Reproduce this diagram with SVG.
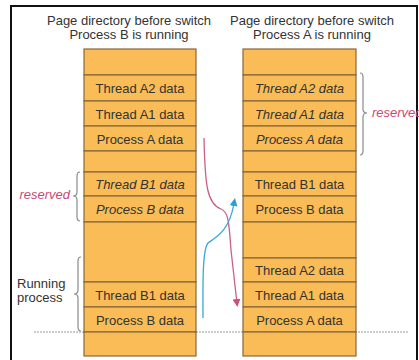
<svg xmlns="http://www.w3.org/2000/svg" width="419" height="360" viewBox="0 0 419 360">
<style>
text{font-family:"Liberation Sans",Arial,sans-serif;font-size:13px;fill:#333}
.c rect{fill:#F9BC56;stroke:#86683A;stroke-width:1.2}
.c text{text-anchor:middle}
.it{font-style:italic}
.title{text-anchor:middle}
.res{font-style:italic;fill:#C64C76}
.brace{fill:none;stroke:#8a8a8a;stroke-width:1.2}
</style>
<defs>
<marker id="ap" markerUnits="userSpaceOnUse" markerWidth="8" markerHeight="8" viewBox="0 0 8 8" refX="1" refY="4" orient="auto"><path d="M0,0 L8,4 L0,8 z" fill="#C8527C"/></marker>
<marker id="ab" markerUnits="userSpaceOnUse" markerWidth="8" markerHeight="8" viewBox="0 0 8 8" refX="1" refY="4" orient="auto"><path d="M0,0 L8,4 L0,8 z" fill="#2E9FD2"/></marker>
</defs>
<rect width="419" height="360" fill="#fff"/>
<path d="M11,360 L11,6 L417,6 L417,360" fill="none" stroke="#111" stroke-width="2"/>
<line x1="34" y1="332" x2="408" y2="332" stroke="#999" stroke-width="1" stroke-dasharray="2,1"/>

<g id="titles">
<text class="title" x="129" y="25">Page directory before switch</text>
<text class="title" x="129" y="38.5">Process B is running</text>
<text class="title" x="312" y="25">Page directory before switch</text>
<text class="title" x="312" y="38.5">Process A is running</text>
</g>

<g id="left-column" class="c">
<g id="l0"><rect x="84" y="49" width="112" height="26"/></g>
<g id="l1"><rect x="84" y="75" width="112" height="26"/><text x="140" y="93">Thread A2 data</text></g>
<g id="l2"><rect x="84" y="101" width="112" height="25"/><text x="140" y="118.5">Thread A1 data</text></g>
<g id="l3"><rect x="84" y="126" width="112" height="25"/><text x="140" y="143.5">Process A data</text></g>
<g id="l4"><rect x="84" y="151" width="112" height="21"/></g>
<g id="l5"><rect x="84" y="172" width="112" height="24"/><text class="it" x="140" y="189">Thread B1 data</text></g>
<g id="l6"><rect x="84" y="196" width="112" height="26"/><text class="it" x="140" y="214">Process B data</text></g>
<g id="l7"><rect x="84" y="222" width="112" height="60"/></g>
<g id="l8"><rect x="84" y="282" width="112" height="25"/><text x="140" y="299.5">Thread B1 data</text></g>
<g id="l9"><rect x="84" y="307" width="112" height="25"/><text x="140" y="324.5">Process B data</text></g>
<g id="l10"><rect x="84" y="332" width="112" height="24"/></g>
</g>

<g id="right-column" class="c">
<g id="r0"><rect x="243" y="49" width="113" height="26"/></g>
<g id="r1"><rect x="243" y="75" width="113" height="26"/><text class="it" x="299.5" y="93">Thread A2 data</text></g>
<g id="r2"><rect x="243" y="101" width="113" height="25"/><text class="it" x="299.5" y="118.5">Thread A1 data</text></g>
<g id="r3"><rect x="243" y="126" width="113" height="25"/><text class="it" x="299.5" y="143.5">Process A data</text></g>
<g id="r4"><rect x="243" y="151" width="113" height="21"/></g>
<g id="r5"><rect x="243" y="172" width="113" height="24"/><text x="299.5" y="189">Thread B1 data</text></g>
<g id="r6"><rect x="243" y="196" width="113" height="26"/><text x="299.5" y="214">Process B data</text></g>
<g id="r7"><rect x="243" y="222" width="113" height="36"/></g>
<g id="r8"><rect x="243" y="258" width="113" height="24"/><text x="299.5" y="275">Thread A2 data</text></g>
<g id="r9"><rect x="243" y="282" width="113" height="25"/><text x="299.5" y="299.5">Thread A1 data</text></g>
<g id="r10"><rect x="243" y="307" width="113" height="25"/><text x="299.5" y="324.5">Process A data</text></g>
<g id="r11"><rect x="243" y="332" width="113" height="24"/></g>
</g>

<g id="labels">
<path class="brace" d="M80,172 Q77,172 77,176 L77,192 Q77,196 73,196 Q77,196 77,200 L77,217 Q77,221 80,221"/>
<text class="res" x="70" y="199" text-anchor="end">reserved</text>
<path class="brace" d="M81,257 Q78,257 78,261 L78,290 Q78,294 74,294 Q78,294 78,298 L78,327 Q78,331 81,331"/>
<text x="17" y="288">Running</text>
<text x="17" y="302">process</text>
<path class="brace" d="M360,73 Q363,73 363,77 L363,109 Q363,113 367,113 Q363,113 363,117 L363,151 Q363,155 360,155"/>
<text class="res" x="372" y="117">reserved</text>
</g>

<g id="connectors" fill="none" stroke-width="1.3">
<path d="M204,138 C205,185 207,204 221,209 C229,212 229,225 231,250 L236.6,300" stroke="#CC5F86" marker-end="url(#ap)"/>
<path d="M203,318 C203,290 202,250 208,243 C218,236 229,230 233.7,205" stroke="#3BA7D8" marker-end="url(#ab)"/>
</g>
</svg>
